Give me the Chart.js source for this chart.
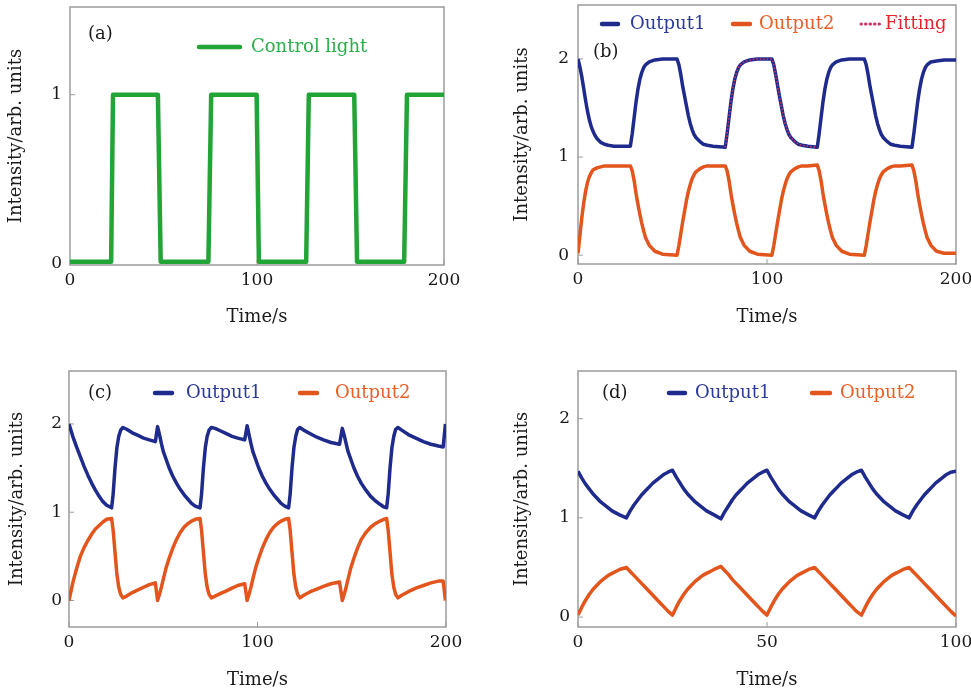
<!DOCTYPE html>
<html>
<head>
<meta charset="utf-8">
<script src="https://cdn.jsdelivr.net/npm/chart.js@4.4.1/dist/chart.umd.min.js"></script>
<style>
  body { margin: 0; background: #fff; width: 971px; height: 695px; position: relative; overflow: hidden; }
  canvas { position: absolute; }
</style>
</head>
<body>
<canvas id="chartA" width="485" height="345" style="left:0;top:0"></canvas>
<canvas id="chartB" width="481" height="345" style="left:490px;top:0"></canvas>
<canvas id="chartC" width="485" height="345" style="left:0;top:350px"></canvas>
<canvas id="chartD" width="481" height="345" style="left:490px;top:350px"></canvas>
<script>
// (a) control light
const timeA = [0, 22, 23, 47, 48.5, 74, 75.5, 99.8, 101, 126.3, 127.7, 152, 153.5, 178.7, 180.2, 200];
const controlLight = [0.01, 0.01, 1, 1, 0.01, 0.01, 1, 1, 0.01, 0.01, 1, 1, 0.01, 0.01, 1, 1];

// (b) outputs + fitting
const timeB = [
  0, 1, 2, 3, 4, 5, 6, 7, 8, 9, 10, 12, 14, 16, 19,
  27.7, 28.7, 29.7, 30.7, 31.7, 32.7, 33.7, 34.7, 35.7, 37.7, 40.7, 44.7,
  52.4, 53.4, 54.4, 55.4, 56.4, 57.4, 58.4, 59.4, 60.4, 61.4, 62.4, 64.4, 66.4, 68.4, 71.4,
  77.9, 78.9, 79.9, 80.9, 81.9, 82.9, 83.9, 84.9, 85.9, 87.9, 90.9, 94.9,
  102.6, 103.6, 104.6, 105.6, 106.6, 107.6, 108.6, 109.6, 110.6, 111.6, 112.6, 114.6, 116.6, 118.6, 121.6,
  126.6, 127.6, 128.6, 129.6, 130.6, 131.6, 132.6, 133.6, 134.6, 136.6, 139.6, 143.6,
  151.5, 152.5, 153.5, 154.5, 155.5, 156.5, 157.5, 158.5, 159.5, 160.5, 161.5, 163.5, 165.5, 167.5, 170.5,
  176.7, 177.7, 178.7, 179.7, 180.7, 181.7, 182.7, 183.7, 184.7, 186.7, 189.7, 193.7,
  200
];
const output1B = [
  2.0, 1.92, 1.82, 1.7, 1.58, 1.47, 1.38, 1.31, 1.26, 1.22, 1.19, 1.15, 1.13, 1.12, 1.11,
  1.11, 1.24, 1.4, 1.56, 1.69, 1.79, 1.86, 1.91, 1.94, 1.97, 1.99, 2.0,
  2.0, 1.94, 1.84, 1.72, 1.62, 1.52, 1.42, 1.34, 1.28, 1.23, 1.2, 1.16, 1.13, 1.12, 1.11,
  1.1, 1.24, 1.4, 1.56, 1.69, 1.79, 1.86, 1.91, 1.94, 1.97, 1.99, 2.0,
  2.0, 1.94, 1.84, 1.73, 1.62, 1.52, 1.42, 1.34, 1.28, 1.23, 1.2, 1.16, 1.13, 1.12, 1.11,
  1.1, 1.24, 1.4, 1.56, 1.69, 1.79, 1.86, 1.91, 1.94, 1.97, 1.99, 2.0,
  2.0, 1.94, 1.84, 1.72, 1.62, 1.52, 1.42, 1.34, 1.28, 1.23, 1.2, 1.16, 1.13, 1.12, 1.11,
  1.1, 1.24, 1.4, 1.56, 1.69, 1.79, 1.86, 1.91, 1.94, 1.97, 1.98, 1.99,
  1.99
];
const output2B = [
  0.02, 0.2, 0.38, 0.53, 0.65, 0.74, 0.8, 0.84, 0.87, 0.88, 0.89, 0.9, 0.91, 0.91, 0.91,
  0.91, 0.86, 0.76, 0.63, 0.52, 0.42, 0.33, 0.25, 0.18, 0.1, 0.04, 0.01,
  0.0, 0.1, 0.22, 0.34, 0.45, 0.56, 0.65, 0.72, 0.78, 0.82, 0.85, 0.88, 0.9, 0.91, 0.91,
  0.91, 0.86, 0.76, 0.63, 0.52, 0.42, 0.33, 0.25, 0.18, 0.1, 0.04, 0.01,
  0.0, 0.1, 0.22, 0.34, 0.45, 0.56, 0.65, 0.72, 0.78, 0.82, 0.85, 0.88, 0.9, 0.91, 0.91,
  0.92, 0.86, 0.76, 0.63, 0.52, 0.42, 0.33, 0.25, 0.18, 0.1, 0.04, 0.01,
  0.0, 0.1, 0.22, 0.34, 0.45, 0.56, 0.65, 0.72, 0.78, 0.82, 0.85, 0.88, 0.9, 0.91, 0.91,
  0.92, 0.86, 0.76, 0.63, 0.52, 0.42, 0.33, 0.25, 0.18, 0.1, 0.04, 0.02,
  0.02
];
const fitTimeB = [
  77.9, 78.9, 79.9, 80.9, 81.9, 82.9, 83.9, 84.9, 85.9, 87.9, 90.9, 94.9,
  102.6, 103.6, 104.6, 105.6, 106.6, 107.6, 108.6, 109.6, 110.6, 111.6, 112.6, 114.6, 116.6, 118.6, 121.6,
  126.6
];
const fittingB = [
  1.1, 1.24, 1.4, 1.56, 1.69, 1.79, 1.86, 1.91, 1.94, 1.97, 1.99, 2.0,
  2.0, 1.94, 1.84, 1.73, 1.62, 1.52, 1.42, 1.34, 1.28, 1.23, 1.2, 1.16, 1.13, 1.12, 1.11,
  1.1
];

// (c) outputs
const timeC = [
  0, 2, 4, 6, 8, 10, 12, 14, 16, 18, 20,
  22.6, 23.4, 24.4, 25.4, 26.4, 27.4,
  28.6, 30.6, 33.6, 36.6, 39.6, 42.6, 45.8,
  47,
  48, 49, 50, 51.5, 53, 55, 57, 59, 61, 63, 65, 67,
  69.5, 70.3, 71.3, 72.3, 73.3, 74.3,
  75.5, 77.5, 80.5, 83.5, 86.5, 89.5, 93.2,
  94.5,
  95.5, 96.5, 97.5, 99, 100.5, 102.5, 104.5, 106.5, 108.5, 110.5, 112.5, 114.5,
  116.5, 117.3, 118.3, 119.3, 120.3, 121.3,
  122.5, 124.5, 128, 131.5, 135, 139, 143.5,
  145,
  146, 147, 148, 149.5, 151, 153, 155, 157.5, 160, 162.5, 165, 167,
  168.5, 169.3, 170.3, 171.3, 172.3, 173.3,
  174.5, 176.5, 180, 184, 188, 192, 196, 198.5,
  199.7
];
const output1C = [
  2.0, 1.86, 1.74, 1.63, 1.52, 1.42, 1.33, 1.25, 1.18, 1.12, 1.08,
  1.05, 1.2, 1.5, 1.73, 1.86, 1.93,
  1.96, 1.94, 1.9, 1.87, 1.84, 1.82, 1.8,
  1.97,
  1.88, 1.78, 1.69, 1.6, 1.51, 1.41, 1.33, 1.26, 1.2, 1.15, 1.1, 1.07,
  1.05, 1.2, 1.5, 1.73, 1.86, 1.93,
  1.96, 1.95, 1.92, 1.89, 1.86, 1.84, 1.82,
  1.98,
  1.88, 1.78, 1.69, 1.6, 1.51, 1.41, 1.33, 1.26, 1.2, 1.15, 1.1, 1.07,
  1.05, 1.2, 1.5, 1.73, 1.86, 1.94,
  1.96, 1.93, 1.89, 1.85, 1.82, 1.79, 1.77,
  1.95,
  1.87, 1.78, 1.69, 1.6, 1.51, 1.41, 1.33, 1.25, 1.18, 1.13, 1.09, 1.06,
  1.05, 1.2, 1.5, 1.73, 1.86, 1.94,
  1.96, 1.93, 1.88, 1.84, 1.8, 1.77, 1.75, 1.74,
  2.0
];
const output2C = [
  0.0, 0.2, 0.36, 0.5, 0.6, 0.68, 0.75, 0.81, 0.85, 0.89, 0.92,
  0.93, 0.8, 0.55, 0.3, 0.15, 0.07,
  0.03, 0.05, 0.09, 0.12, 0.15, 0.18, 0.2,
  0.0,
  0.07, 0.15, 0.24, 0.37, 0.47, 0.59, 0.69, 0.77, 0.83, 0.87, 0.9, 0.92,
  0.93, 0.8, 0.55, 0.3, 0.15, 0.07,
  0.03, 0.05, 0.08, 0.11, 0.14, 0.17, 0.19,
  0.0,
  0.07, 0.15, 0.24, 0.37, 0.47, 0.59, 0.69, 0.77, 0.83, 0.87, 0.9, 0.92,
  0.93, 0.8, 0.55, 0.3, 0.15, 0.07,
  0.03, 0.06, 0.1, 0.13, 0.16, 0.19, 0.21,
  0.0,
  0.07, 0.15, 0.24, 0.37, 0.47, 0.59, 0.69, 0.77, 0.83, 0.87, 0.9, 0.92,
  0.93, 0.8, 0.55, 0.3, 0.15, 0.07,
  0.03, 0.06, 0.1, 0.14, 0.17, 0.2, 0.22, 0.22,
  0.0
];

// (d) outputs
const timeD = [
  0, 1, 2, 3, 4, 5, 6, 7, 8, 9, 10, 11,
  12.8, 13.8, 14.8, 15.8, 16.8, 17.8, 18.8, 19.8, 20.8, 21.8, 22.8, 23.8,
  25, 26, 27, 28, 29, 30, 31, 32, 33, 34, 35, 36,
  37.8, 38.8, 39.8, 40.8, 41.8, 42.8, 43.8, 44.8, 45.8, 46.8, 47.8, 48.8,
  50, 51, 52, 53, 54, 55, 56, 57, 58, 59, 60, 61,
  62.6, 63.6, 64.6, 65.6, 66.6, 67.6, 68.6, 69.6, 70.6, 71.6, 72.6, 73.6,
  75, 76, 77, 78, 79, 80, 81, 82, 83, 84, 85, 86,
  87.6, 88.6, 89.6, 90.6, 91.6, 92.6, 93.6, 94.6, 95.6, 96.6, 97.6, 98.6,
  100
];
const output1D = [
  1.47, 1.4, 1.34, 1.29, 1.24, 1.2, 1.16, 1.13, 1.1, 1.07, 1.05, 1.03,
  1.0, 1.07, 1.13, 1.18, 1.23, 1.27, 1.31, 1.35, 1.38, 1.41, 1.44, 1.46,
  1.48, 1.41, 1.35, 1.29, 1.24, 1.2, 1.16, 1.13, 1.1, 1.07, 1.05, 1.03,
  0.99, 1.06, 1.12, 1.18, 1.23, 1.27, 1.31, 1.35, 1.38, 1.41, 1.44, 1.46,
  1.48, 1.41, 1.35, 1.29, 1.24, 1.2, 1.16, 1.13, 1.1, 1.07, 1.05, 1.03,
  1.0, 1.07, 1.13, 1.18, 1.23, 1.27, 1.31, 1.35, 1.38, 1.41, 1.44, 1.46,
  1.48, 1.41, 1.35, 1.29, 1.24, 1.2, 1.16, 1.13, 1.1, 1.07, 1.05, 1.03,
  1.0, 1.07, 1.13, 1.18, 1.23, 1.27, 1.31, 1.35, 1.38, 1.41, 1.44, 1.46,
  1.47
];
const output2D = [
  0.02, 0.1, 0.17, 0.23, 0.28, 0.32, 0.36, 0.39, 0.42, 0.44, 0.46, 0.48,
  0.5, 0.46, 0.42, 0.38, 0.34, 0.3, 0.26, 0.22, 0.18, 0.14, 0.1, 0.06,
  0.02, 0.1, 0.17, 0.23, 0.28, 0.32, 0.36, 0.39, 0.42, 0.44, 0.46, 0.48,
  0.51, 0.47, 0.43, 0.38, 0.34, 0.3, 0.26, 0.22, 0.18, 0.14, 0.1, 0.06,
  0.02, 0.1, 0.17, 0.23, 0.28, 0.32, 0.36, 0.39, 0.42, 0.44, 0.46, 0.48,
  0.5, 0.46, 0.42, 0.38, 0.34, 0.3, 0.26, 0.22, 0.18, 0.14, 0.1, 0.06,
  0.02, 0.1, 0.17, 0.23, 0.28, 0.32, 0.36, 0.39, 0.42, 0.44, 0.46, 0.48,
  0.5, 0.46, 0.42, 0.38, 0.34, 0.3, 0.26, 0.22, 0.18, 0.14, 0.1, 0.06,
  0.01
];

const xTicks200 = [0, 100, 200];
const xTicks100 = [0, 50, 100];
const yTicksA = [0, 1];
const yTicksBCD = [0, 1, 2];

const GREEN = '#22a436';
const BLUE = '#1f2b8c';
const ORANGE = '#e2561d';
const FIT_RED = '#cc3366';
const FONT = '"DejaVu Serif", serif';

Chart.defaults.font.family = FONT;
Chart.defaults.font.size = 17;
Chart.defaults.color = '#1a1a1a';

const pts = (xs, ys) => xs.map((x, i) => ({ x: x, y: ys[i] }));

// frame, inward ticks, panel label and inset legend
const panelDecor = {
  id: 'panelDecor',
  beforeDatasetsDraw(chart) {
    const { ctx, chartArea: a, scales: { x, y } } = chart;
    ctx.save();
    ctx.strokeStyle = '#9c9c9c';
    ctx.lineWidth = 1.5;
    ctx.strokeRect(a.left, a.top, a.right - a.left, a.bottom - a.top);
    ctx.lineWidth = 1;
    ctx.beginPath();
    x.ticks.forEach(t => {
      const px = x.getPixelForValue(t.value);
      ctx.moveTo(px, a.bottom);
      ctx.lineTo(px, a.bottom - 5);
    });
    y.ticks.forEach(t => {
      const py = y.getPixelForValue(t.value);
      ctx.moveTo(a.left, py);
      ctx.lineTo(a.left + 5, py);
    });
    ctx.stroke();
    ctx.restore();
  },
  afterDatasetsDraw(chart, args, opts) {
    const { ctx } = chart;
    ctx.save();
    ctx.font = '18px ' + FONT;
    ctx.textBaseline = 'middle';
    ctx.fillStyle = '#1a1a1a';
    ctx.fillText(opts.label, opts.labelX, opts.labelY);
    opts.items.forEach((it, i) => {
      const ds = chart.data.datasets[i];
      ctx.strokeStyle = ds.borderColor;
      ctx.lineCap = 'round';
      if (ds.borderDash) {
        ctx.lineWidth = 3;
        ctx.setLineDash([0.5, 4]);
      } else {
        ctx.lineWidth = 4.5;
        ctx.setLineDash([]);
      }
      ctx.beginPath();
      ctx.moveTo(it.x1, it.y);
      ctx.lineTo(it.x2, it.y);
      ctx.stroke();
      ctx.setLineDash([]);
      ctx.fillStyle = ds.legendTextColor;
      ctx.fillText(ds.label, it.textX, it.y);
    });
    ctx.restore();
  }
};

function makeOptions(p) {
  return {
    responsive: false,
    animation: false,
    events: [],
    layout: { padding: { left: 0, right: p.padRight, top: p.padTop, bottom: 0 } },
    elements: { point: { radius: 0 }, line: { tension: 0, borderJoinStyle: 'round' } },
    plugins: {
      legend: { display: false },
      tooltip: { enabled: false },
      panelDecor: p.decor
    },
    scales: {
      x: {
        type: 'linear',
        min: p.xMin, max: p.xMax,
        afterBuildTicks: s => { s.ticks = p.xTicks.map(v => ({ value: v })); },
        afterFit: s => { s.height = p.xHeight; s.paddingLeft = 0; s.paddingRight = 0; },
        grid: { display: false, drawTicks: false },
        border: { display: false },
        ticks: { padding: p.xTickPad, maxRotation: 0 },
        title: { display: true, text: 'Time/s', font: { size: 18 }, padding: { top: 0, bottom: p.xTitlePad } }
      },
      y: {
        type: 'linear',
        min: p.yMin, max: p.yMax,
        afterBuildTicks: s => { s.ticks = p.yTicks.map(v => ({ value: v })); },
        afterFit: s => { s.width = p.yWidth; s.paddingTop = 0; s.paddingBottom = 0; },
        grid: { display: false, drawTicks: false },
        border: { display: false },
        ticks: { padding: p.yTickPad },
        title: { display: true, text: 'Intensity/arb. units', font: { size: 18 }, padding: { top: p.yTitlePad, bottom: 0 } }
      }
    }
  };
}

new Chart(document.getElementById('chartA'), {
  type: 'line',
  data: {
    datasets: [{
      label: 'Control light',
      data: pts(timeA, controlLight),
      borderColor: GREEN, borderWidth: 4.5, legendTextColor: '#2aae4a'
    }]
  },
  options: makeOptions({
    padRight: 41, padTop: 7, yWidth: 70, xHeight: 80,
    xMin: 0, xMax: 200, xTicks: xTicks200, yMin: -0.01, yMax: 1.52, yTicks: yTicksA,
    xTickPad: 5, xTitlePad: 17, yTickPad: 8, yTitlePad: 6,
    decor: { label: '(a)', labelX: 88, labelY: 34, items: [{ x1: 199, x2: 240, y: 47, textX: 251 }] }
  }),
  plugins: [panelDecor]
});

new Chart(document.getElementById('chartB'), {
  type: 'line',
  data: {
    datasets: [
      { label: 'Output1', data: pts(timeB, output1B), borderColor: BLUE, borderWidth: 3.5, order: 2, legendTextColor: '#2b3a9c' },
      { label: 'Output2', data: pts(timeB, output2B), borderColor: ORANGE, borderWidth: 3.5, order: 2, legendTextColor: '#ea5f26' },
      { label: 'Fitting', data: pts(fitTimeB, fittingB), borderColor: FIT_RED, borderWidth: 1.6, borderDash: [1.5, 2], order: 1, legendTextColor: '#e8232c' }
    ]
  },
  options: makeOptions({
    padRight: 15, padTop: 5, yWidth: 88, xHeight: 81,
    xMin: 0, xMax: 200, xTicks: xTicks200, yMin: -0.09, yMax: 2.55, yTicks: yTicksBCD,
    xTickPad: 5, xTitlePad: 17, yTickPad: 9, yTitlePad: 22,
    decor: {
      label: '(b)', labelX: 103, labelY: 52,
      items: [
        { x1: 112, x2: 128, y: 24, textX: 140 },
        { x1: 243, x2: 260, y: 24, textX: 269 },
        { x1: 371, x2: 390, y: 24, textX: 395 }
      ]
    }
  }),
  plugins: [panelDecor]
});

new Chart(document.getElementById('chartC'), {
  type: 'line',
  data: {
    datasets: [
      { label: 'Output1', data: pts(timeC, output1C), borderColor: BLUE, borderWidth: 3.5, legendTextColor: '#2b3a9c' },
      { label: 'Output2', data: pts(timeC, output2C), borderColor: ORANGE, borderWidth: 3.5, legendTextColor: '#ea5f26' }
    ]
  },
  options: makeOptions({
    padRight: 39, padTop: 21, yWidth: 69, xHeight: 68,
    xMin: 0, xMax: 200, xTicks: xTicks200, yMin: -0.3, yMax: 2.6, yTicks: yTicksBCD,
    xTickPad: 5, xTitlePad: 4, yTickPad: 7, yTitlePad: 7,
    decor: {
      label: '(c)', labelX: 88, labelY: 43,
      items: [
        { x1: 155, x2: 172, y: 43, textX: 186 },
        { x1: 300, x2: 317, y: 43, textX: 335 }
      ]
    }
  }),
  plugins: [panelDecor]
});

new Chart(document.getElementById('chartD'), {
  type: 'line',
  data: {
    datasets: [
      { label: 'Output1', data: pts(timeD, output1D), borderColor: BLUE, borderWidth: 3.5, legendTextColor: '#2b3a9c' },
      { label: 'Output2', data: pts(timeD, output2D), borderColor: ORANGE, borderWidth: 3.5, legendTextColor: '#ea5f26' }
    ]
  },
  options: makeOptions({
    padRight: 15, padTop: 21, yWidth: 88, xHeight: 68,
    xMin: 0, xMax: 100, xTicks: xTicks100, yMin: -0.1, yMax: 2.48, yTicks: yTicksBCD,
    xTickPad: 5, xTitlePad: 4, yTickPad: 8, yTitlePad: 22,
    decor: {
      label: '(d)', labelX: 112, labelY: 43,
      items: [
        { x1: 179, x2: 195, y: 43, textX: 205 },
        { x1: 322, x2: 340, y: 43, textX: 350 }
      ]
    }
  }),
  plugins: [panelDecor]
});
</script>
</body>
</html>
